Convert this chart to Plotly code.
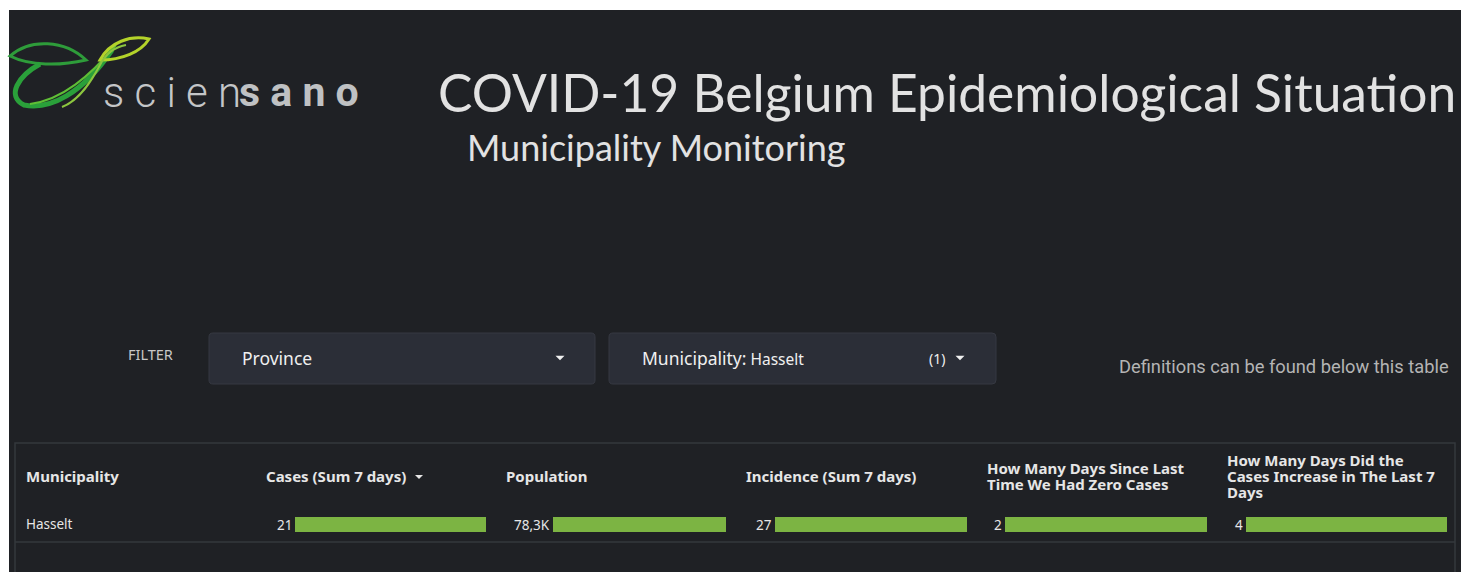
import plotly.graph_objects as go

# ---------------- data ----------------
municipality = ["Hasselt"]
cases_7d = [21]
population = [78300]
incidence_7d = [27]
days_since_zero = [2]
days_increase = [4]

columns = [
    ("Cases (Sum 7 days)", cases_7d),
    ("Population", population),
    ("Incidence (Sum 7 days)", incidence_7d),
    ("How Many Days Since Last<br>Time We Had Zero Cases", days_since_zero),
    ("How Many Days Did the<br>Cases Increase in The Last 7<br>Days", days_increase),
]

title_text = "COVID-19 Belgium Epidemiological Situation"
subtitle_text = "Municipality Monitoring"
filter_province = "Province"
filter_municipality = "Hasselt"
definitions_text = "Definitions can be found below this table"

# ---------------- layout helpers ----------------
W, H = 1461, 572
BG = "#1f2125"
GREEN = "#7cb443"
TXT = "#e6e6e6"
PAD = 2                      # annotation inner padding


def px(x):
    return x / W


def py(y):
    return 1 - y / H


def fmt(v):
    if v >= 1000:
        return f"{v/1000:.1f}K".replace(".", ",")
    return str(v)


def to_paper_path(d):
    toks = d.replace(",", " ").split()
    out = []
    is_x = True
    for t in toks:
        if t.isalpha():
            out.append(t)
            is_x = True
        else:
            v = float(t)
            out.append(f"{px(v):.5f}" if is_x else f"{py(v):.5f}")
            is_x = not is_x
    return " ".join(out)


def rounded_rect(x0, y0, x1, y1, r):
    return (f"M {x0+r} {y0} L {x1-r} {y0} Q {x1} {y0} {x1} {y0+r} L {x1} {y1-r} Q {x1} {y1} {x1-r} {y1} "
            f"L {x0+r} {y1} Q {x0} {y1} {x0} {y1-r} L {x0} {y0+r} Q {x0} {y0} {x0+r} {y0} Z")


def triangle(cx, cy, w=9, h=4.5):
    return f"M {cx-w/2} {cy-h/2} L {cx+w/2} {cy-h/2} L {cx} {cy+h/2} Z"


fig = go.Figure()
shapes = []
annotations = []

# dark page area (thin white sliver top/left as in the screenshot)
shapes.append(dict(type="rect", xref="paper", yref="paper", x0=px(9), x1=1, y0=0, y1=py(10),
                   fillcolor=BG, line=dict(width=0), layer="below"))

# ---------------- logo ----------------
leaf_paths = [
    ("M 10 56 C 30 38, 65 40, 86 60 C 60 66, 30 66, 10 56 Z", "#2e9c3a", 3, "rgba(0,0,0,0)"),
    ("M 40 64 C 18 76, 6 96, 24 105 C 50 110, 82 94, 112 50", "#2aa03a", 5, "rgba(0,0,0,0)"),
    ("M 30 104 C 62 100, 90 76, 116 45", "#5fbf36", 2, "rgba(0,0,0,0)"),
    ("M 100 60 C 110 42, 130 35, 149 39 C 141 52, 122 60, 100 60 Z", "#b4d32a", 3, "rgba(0,0,0,0)"),
    ("M 62 107 C 80 100, 92 80, 100 65 C 106 53, 115 47, 126 45", "#8cc63f", 2, "rgba(0,0,0,0)"),
]
for d, col, wdt, fill in leaf_paths:
    shapes.append(dict(type="path", xref="paper", yref="paper", path=to_paper_path(d),
                       line=dict(color=col, width=wdt), fillcolor=fill))

annotations.append(dict(x=px(101), y=py(92), xref="paper", yref="paper", xanchor="left", yanchor="middle",
                        text="s c i e n", showarrow=False,
                        font=dict(family="Roboto", size=42, color="#c4c6c8", weight=300)))
annotations.append(dict(x=px(237), y=py(92), xref="paper", yref="paper", xanchor="left", yanchor="middle",
                        text="s a n o", showarrow=False,
                        font=dict(family="Roboto", size=41, color="#bfc1c3", weight=700)))

# ---------------- titles ----------------
annotations.append(dict(x=px(947), y=py(92), xref="paper", yref="paper", xanchor="center", yanchor="middle",
                        text=title_text, showarrow=False,
                        font=dict(family="Lato", size=51.5, color="#e2e2e2")))
annotations.append(dict(x=px(656), y=py(147), xref="paper", yref="paper", xanchor="center", yanchor="middle",
                        text=subtitle_text, showarrow=False,
                        font=dict(family="Lato", size=36, color="#e2e2e2")))

# ---------------- filter row ----------------
annotations.append(dict(x=px(150), y=py(354), xref="paper", yref="paper", xanchor="center", yanchor="middle",
                        text="FILTER", showarrow=False,
                        font=dict(family="Noto Sans", size=14.5, color="#c8c8c8")))
for x0, x1 in [(209, 595), (609, 996)]:
    shapes.append(dict(type="path", xref="paper", yref="paper",
                       path=to_paper_path(rounded_rect(x0, 333, x1, 384, 4)),
                       fillcolor="#2b2e37", line=dict(color="#363942", width=1)))
annotations.append(dict(x=px(242 - PAD), y=py(358), xref="paper", yref="paper", xanchor="left", yanchor="middle",
                        text=filter_province, showarrow=False,
                        font=dict(family="Noto Sans", size=17.5, color="#f0f0f0")))
annotations.append(dict(x=px(642 - PAD), y=py(358), xref="paper", yref="paper", xanchor="left", yanchor="middle",
                        text="Municipality:<span style='font-size:15.5px'> " + filter_municipality + "</span>",
                        showarrow=False,
                        font=dict(family="Noto Sans", size=17.5, color="#f0f0f0")))
annotations.append(dict(x=px(937), y=py(358), xref="paper", yref="paper", xanchor="center", yanchor="middle",
                        text="(1)", showarrow=False,
                        font=dict(family="Noto Sans", size=14, color="#f0f0f0")))
for tx in [560, 960]:
    shapes.append(dict(type="path", xref="paper", yref="paper", path=to_paper_path(triangle(tx, 358)),
                       fillcolor="#f0f0f0", line=dict(width=0)))
annotations.append(dict(x=px(1449 + PAD), y=py(366), xref="paper", yref="paper", xanchor="right", yanchor="middle",
                        text=definitions_text, showarrow=False,
                        font=dict(family="Roboto", size=18.3, color="#b4b4b4")))

# ---------------- table ----------------
shapes.append(dict(type="rect", xref="paper", yref="paper", x0=px(15), x1=px(1455), y0=py(590), y1=py(443),
                   fillcolor="rgba(0,0,0,0)", line=dict(color="#35383d", width=1.5)))
shapes.append(dict(type="line", xref="paper", yref="paper", x0=px(15), x1=px(1455), y0=py(542), y1=py(542),
                   line=dict(color="#35383d", width=1.5)))

header_font = dict(family="Noto Sans", size=15, color=TXT, weight=700)
annotations.append(dict(x=px(26 - PAD), y=py(476), xref="paper", yref="paper", xanchor="left", yanchor="middle",
                        text="Municipality", showarrow=False, font=header_font))
annotations.append(dict(x=px(26 - PAD), y=py(524), xref="paper", yref="paper", xanchor="left", yanchor="middle",
                        text=municipality[0], showarrow=False,
                        font=dict(family="Noto Sans", size=13.5, color=TXT)))

header_x = [267, 507, 747, 988, 1228]
bar_spans = [(295, 486), (553, 726), (775, 967), (1005, 1207), (1246, 1447)]
header_first_line_y = [476, 476, 476, 468, 460]

layout_axes = {}
for i, ((name, vals), hx, (bx0, bx1), hy) in enumerate(zip(columns, header_x, bar_spans, header_first_line_y)):
    lines = name.split("<br>")
    for j, ln in enumerate(lines):
        annotations.append(dict(x=px(hx - PAD), y=py(hy + 16 * j), xref="paper", yref="paper",
                                xanchor="left", yanchor="middle", text=ln, showarrow=False,
                                font=header_font, borderpad=0))
    k = i + 1
    xa = "x" if k == 1 else f"x{k}"
    ya = "y" if k == 1 else f"y{k}"
    fig.add_trace(go.Bar(x=vals, y=municipality, orientation="h", marker=dict(color=GREEN, line=dict(width=0)),
                         xaxis=xa, yaxis=ya, showlegend=False, hoverinfo="x"))
    xkey = "xaxis" if k == 1 else f"xaxis{k}"
    ykey = "yaxis" if k == 1 else f"yaxis{k}"
    layout_axes[xkey] = dict(domain=[px(bx0), px(bx1)], range=[0, max(vals)], visible=False,
                             anchor=ya, fixedrange=True)
    layout_axes[ykey] = dict(domain=[py(532), py(517)], range=[-0.5, 0.5], visible=False,
                             anchor=xa, fixedrange=True)
    annotations.append(dict(x=0, y=0.5, xref=f"{xa} domain", yref=f"{ya} domain", xanchor="right",
                            yanchor="middle", xshift=-1, text=fmt(vals[0]), showarrow=False,
                            font=dict(family="Noto Sans", size=13.5, color=TXT)))

# sort arrow next to "Cases"
shapes.append(dict(type="path", xref="paper", yref="paper", path=to_paper_path(triangle(419, 477, 8, 4)),
                   fillcolor=TXT, line=dict(width=0)))

fig.update_layout(
    width=W, height=H,
    margin=dict(l=0, r=0, t=0, b=0),
    paper_bgcolor="white",
    plot_bgcolor="rgba(0,0,0,0)",
    bargap=0,
    shapes=shapes,
    annotations=annotations,
    showlegend=False,
    **layout_axes,
)

fig.write_html("out.html", config={"displayModeBar": False},
               default_width=f"{W}px", default_height=f"{H}px",
               post_script="document.body.style.margin='0';document.body.style.overflow='hidden';")
